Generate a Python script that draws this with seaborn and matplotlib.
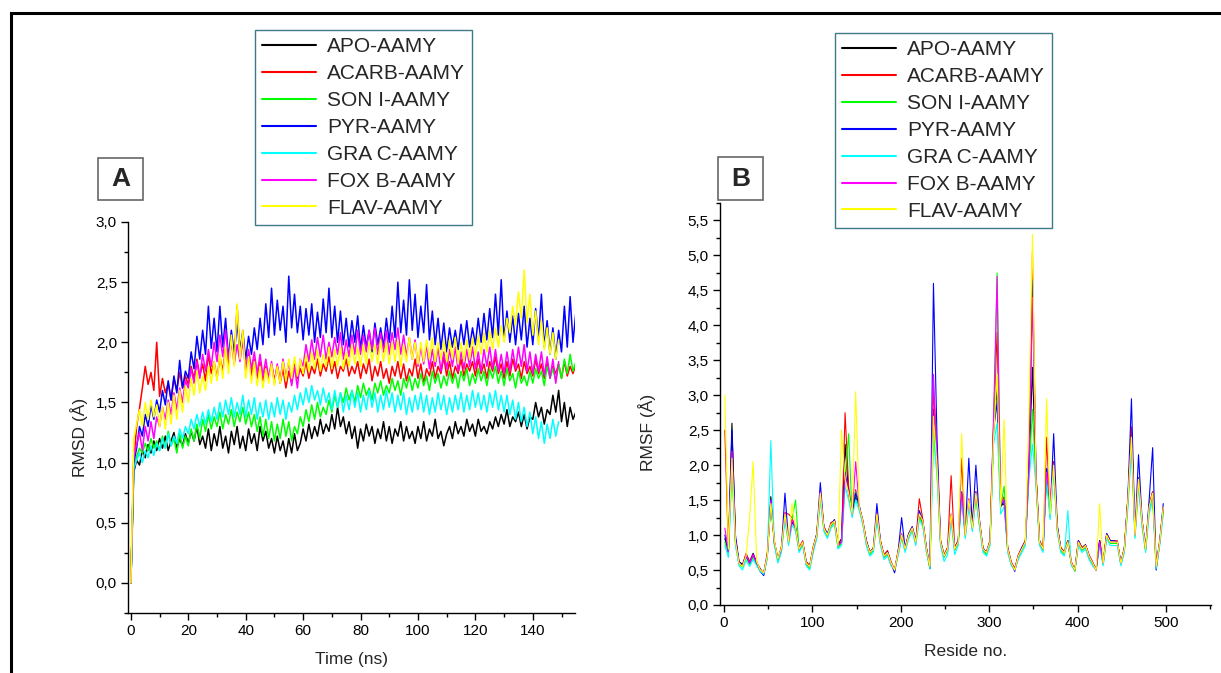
import numpy as np
import pandas as pd
import matplotlib
matplotlib.use("Agg")
import matplotlib.pyplot as plt
import seaborn as sns
from matplotlib.lines import Line2D
from matplotlib.patches import Rectangle
from matplotlib.ticker import MultipleLocator, FuncFormatter

labels = ["APO-AAMY", "ACARB-AAMY", "SON I-AAMY", "PYR-AAMY",
          "GRA C-AAMY", "FOX B-AAMY", "FLAV-AAMY"]
colors = ["#000000", "#ff0000", "#00ff00", "#0000ff", "#00ffff", "#ff00ff", "#ffff00"]

# ---- panel A: RMSD (1 ns steps) ----
time_ns = np.arange(0, 156)

rmsd_apo = [
    0.0, 0.92, 1.02, 0.98, 1.1, 1.04, 1.15, 1.08, 1.18, 1.1,
    1.2, 1.12, 1.22, 1.1, 1.18, 1.25, 1.12, 1.2, 1.14, 1.24,
    1.16, 1.26, 1.18, 1.3, 1.15, 1.22, 1.12, 1.28, 1.1, 1.24,
    1.14, 1.3, 1.12, 1.22, 1.08, 1.26, 1.15, 1.3, 1.12, 1.22,
    1.1, 1.28, 1.16, 1.24, 1.1, 1.3, 1.18, 1.26, 1.12, 1.2,
    1.08, 1.22, 1.1, 1.18, 1.05, 1.2, 1.08, 1.24, 1.1, 1.16,
    1.28, 1.18, 1.32, 1.2, 1.3, 1.22, 1.36, 1.24, 1.32, 1.26,
    1.4, 1.28, 1.46, 1.3, 1.38, 1.24, 1.34, 1.2, 1.3, 1.12,
    1.28, 1.18, 1.32, 1.22, 1.3, 1.16, 1.28, 1.2, 1.34, 1.18,
    1.3, 1.16, 1.28, 1.22, 1.34, 1.18, 1.3, 1.2, 1.26, 1.16,
    1.3, 1.2, 1.34, 1.18, 1.28, 1.22, 1.36, 1.2, 1.26, 1.14,
    1.24, 1.3, 1.2, 1.34, 1.24, 1.3, 1.22, 1.36, 1.26, 1.32,
    1.22, 1.36, 1.26, 1.3, 1.24, 1.34, 1.28, 1.38, 1.3, 1.4,
    1.32, 1.44, 1.3, 1.38, 1.34, 1.42, 1.3, 1.4, 1.28, 1.38,
    1.36, 1.5, 1.38, 1.46, 1.32, 1.44, 1.4, 1.56, 1.42, 1.6,
    1.34, 1.5, 1.3, 1.46, 1.36, 1.42]
rmsd_acarb = [
    0.0, 1.0, 1.3, 1.45, 1.62, 1.8, 1.65, 1.75, 1.6, 2.0,
    1.55, 1.7, 1.58, 1.66, 1.52, 1.7, 1.6, 1.75, 1.62, 1.72,
    1.65, 1.8, 1.7, 1.86, 1.72, 1.82, 1.68, 1.9, 1.74, 1.84,
    1.7, 1.88, 1.76, 1.95, 1.8, 2.05, 1.85, 2.3, 1.9, 2.1,
    1.78, 1.9, 1.72, 1.86, 1.7, 1.84, 1.68, 1.8, 1.7, 1.82,
    1.68, 1.8, 1.66, 1.78, 1.62, 1.76, 1.66, 1.82, 1.7, 1.78,
    1.72, 1.84, 1.7, 1.8, 1.74, 1.86, 1.72, 1.82, 1.76, 1.88,
    1.74, 1.84, 1.7, 1.8, 1.76, 1.86, 1.72, 1.8, 1.74, 1.84,
    1.7, 1.82, 1.74, 1.86, 1.68, 1.8, 1.72, 1.84, 1.7, 1.78,
    1.66, 1.8, 1.72, 1.84, 1.7, 1.82, 1.68, 1.78, 1.72, 1.86,
    1.7, 1.82, 1.66, 1.78, 1.72, 1.84, 1.7, 1.8, 1.74, 1.88,
    1.72, 1.84, 1.7, 1.8, 1.74, 1.86, 1.72, 1.82, 1.76, 1.84,
    1.72, 1.86, 1.74, 1.82, 1.7, 1.84, 1.76, 1.88, 1.74, 1.82,
    1.7, 1.84, 1.72, 1.86, 1.76, 1.82, 1.7, 1.84, 1.74, 1.8,
    1.72, 1.86, 1.74, 1.82, 1.7, 1.84, 1.72, 1.8, 1.74, 1.82,
    1.7, 1.84, 1.72, 1.8, 1.74, 1.82]
rmsd_son = [
    0.0, 0.95, 1.05, 1.12, 1.08, 1.16, 1.1, 1.2, 1.12, 1.18,
    1.1, 1.22, 1.12, 1.26, 1.14, 1.2, 1.08, 1.24, 1.12, 1.22,
    1.14, 1.28, 1.18, 1.32, 1.2, 1.36, 1.26, 1.4, 1.28, 1.38,
    1.3, 1.42, 1.28, 1.4, 1.32, 1.44, 1.3, 1.42, 1.34, 1.46,
    1.32, 1.42, 1.3, 1.4, 1.26, 1.38, 1.22, 1.36, 1.2, 1.34,
    1.18, 1.32, 1.2, 1.36, 1.22, 1.34, 1.18, 1.3, 1.24, 1.38,
    1.3, 1.44, 1.34, 1.48, 1.36, 1.5, 1.38, 1.46, 1.4, 1.52,
    1.42, 1.56, 1.46, 1.58, 1.5, 1.62, 1.52, 1.6, 1.5, 1.64,
    1.54, 1.66, 1.56, 1.62, 1.52, 1.66, 1.58, 1.68, 1.56, 1.64,
    1.58, 1.7, 1.6, 1.68, 1.56, 1.7, 1.62, 1.72, 1.6, 1.7,
    1.62, 1.74, 1.64, 1.72, 1.6, 1.76, 1.66, 1.74, 1.62, 1.72,
    1.64, 1.76, 1.66, 1.74, 1.62, 1.76, 1.68, 1.78, 1.64, 1.74,
    1.66, 1.78, 1.68, 1.76, 1.64, 1.78, 1.7, 1.8, 1.66, 1.76,
    1.64, 1.78, 1.68, 1.74, 1.62, 1.76, 1.66, 1.72, 1.64, 1.76,
    1.66, 1.78, 1.7, 1.76, 1.64, 1.8, 1.7, 1.78, 1.68, 1.82,
    1.7, 1.86, 1.74, 1.9, 1.76, 1.84]
rmsd_pyr = [
    0.0, 1.0, 1.12, 1.3, 1.22, 1.4, 1.3, 1.48, 1.36, 1.52,
    1.42, 1.6, 1.48, 1.68, 1.52, 1.72, 1.58, 1.85, 1.62, 1.76,
    1.7, 1.92, 1.78, 2.05, 1.86, 2.1, 1.9, 2.3, 1.95, 2.2,
    1.92, 2.3, 1.96, 2.2, 1.86, 2.1, 1.9, 2.15, 1.94, 2.08,
    1.86, 2.05, 1.9, 2.12, 1.94, 2.2, 1.98, 2.32, 2.04, 2.45,
    2.06, 2.35, 2.1, 2.3, 2.0, 2.55, 2.12, 2.4, 2.08, 2.3,
    2.02, 2.28, 2.06, 2.32, 2.0, 2.25, 2.04, 2.36, 2.08, 2.45,
    2.04, 2.3, 2.0, 2.26, 1.98, 2.2, 1.96, 2.18, 2.0, 2.22,
    1.94, 2.14, 1.96, 2.1, 1.92, 2.16, 1.98, 2.12, 1.96, 2.2,
    2.0, 2.3, 2.04, 2.5, 2.08, 2.35, 2.06, 2.52, 2.1, 2.4,
    2.04, 2.3, 2.08, 2.48, 2.02, 2.26, 1.98, 2.2, 1.94, 2.16,
    1.92, 2.12, 1.96, 2.1, 1.94, 2.15, 1.98, 2.18, 1.96, 2.12,
    1.98, 2.2, 2.0, 2.24, 2.02, 2.28, 2.04, 2.4, 2.06, 2.52,
    2.02, 2.26, 2.0, 2.22, 1.98, 2.24, 2.02, 2.3, 1.96, 2.2,
    1.98, 2.28, 2.02, 2.4, 1.96, 2.18, 1.9, 2.12, 1.86, 2.1,
    1.92, 2.3, 1.96, 2.38, 2.0, 2.25]
rmsd_grac = [
    0.0, 0.95, 1.02, 1.08, 1.0, 1.1, 1.04, 1.14, 1.06, 1.16,
    1.1, 1.2, 1.12, 1.24, 1.14, 1.22, 1.16, 1.28, 1.2, 1.3,
    1.24, 1.36, 1.28, 1.4, 1.3, 1.42, 1.32, 1.44, 1.34, 1.46,
    1.36, 1.5, 1.38, 1.52, 1.4, 1.54, 1.38, 1.5, 1.4, 1.56,
    1.38, 1.52, 1.4, 1.54, 1.36, 1.5, 1.38, 1.52, 1.36, 1.5,
    1.38, 1.54, 1.4, 1.52, 1.36, 1.5, 1.42, 1.56, 1.44, 1.58,
    1.48, 1.62, 1.5, 1.64, 1.52, 1.6, 1.48, 1.62, 1.5, 1.58,
    1.44, 1.6, 1.46, 1.58, 1.42, 1.56, 1.44, 1.6, 1.46, 1.58,
    1.42, 1.56, 1.44, 1.6, 1.46, 1.58, 1.42, 1.56, 1.44, 1.6,
    1.46, 1.58, 1.42, 1.56, 1.44, 1.58, 1.4, 1.54, 1.42, 1.56,
    1.44, 1.58, 1.42, 1.56, 1.4, 1.54, 1.42, 1.58, 1.44, 1.56,
    1.4, 1.54, 1.42, 1.56, 1.44, 1.58, 1.42, 1.56, 1.44, 1.6,
    1.46, 1.58, 1.44, 1.56, 1.42, 1.58, 1.46, 1.6, 1.44, 1.56,
    1.42, 1.56, 1.4, 1.52, 1.36, 1.5, 1.34, 1.46, 1.3, 1.42,
    1.24, 1.38, 1.2, 1.34, 1.16, 1.32, 1.2, 1.36, 1.22, 1.34]
rmsd_foxb = [
    0.0, 1.05, 1.15, 1.25, 1.1, 1.3, 1.18, 1.34, 1.2, 1.38,
    1.3, 1.46, 1.36, 1.52, 1.4, 1.58, 1.44, 1.62, 1.5, 1.68,
    1.62, 1.78, 1.66, 1.84, 1.7, 1.9, 1.76, 1.94, 1.8, 2.0,
    1.84, 2.06, 1.88, 2.1, 1.86, 2.0, 1.82, 1.98, 1.84, 2.02,
    1.76, 1.94, 1.78, 1.92, 1.74, 1.9, 1.72, 1.86, 1.7, 1.84,
    1.66, 1.82, 1.68, 1.86, 1.7, 1.84, 1.64, 1.8, 1.62, 1.86,
    1.8, 1.98, 1.84, 2.02, 1.86, 2.04, 1.88, 2.06, 1.86, 2.0,
    1.88, 2.04, 1.9, 2.08, 1.86, 2.02, 1.88, 2.06, 1.9, 2.1,
    1.9, 2.06, 1.92, 2.1, 1.94, 2.12, 1.9, 2.08, 1.92, 2.1,
    1.9, 2.08, 1.94, 2.12, 1.9, 2.06, 1.88, 2.04, 1.86, 2.02,
    1.8, 1.96, 1.82, 1.98, 1.78, 1.94, 1.8, 1.96, 1.76, 1.92,
    1.78, 1.94, 1.8, 1.96, 1.76, 1.92, 1.78, 1.94, 1.8, 1.96,
    1.78, 1.92, 1.76, 1.94, 1.8, 1.96, 1.78, 1.94, 1.76, 1.9,
    1.74, 1.92, 1.76, 1.94, 1.78, 1.96, 1.8, 1.98, 1.76, 1.92,
    1.74, 1.9, 1.76, 1.92, 1.72, 1.88, 1.7, 1.86, 1.66, 1.84]
rmsd_flav = [
    0.0, 1.2, 1.32, 1.44, 1.3, 1.5, 1.36, 1.52, 1.38, 1.48,
    1.3, 1.46, 1.28, 1.5, 1.32, 1.56, 1.36, 1.6, 1.42, 1.64,
    1.5, 1.7, 1.56, 1.76, 1.58, 1.72, 1.6, 1.8, 1.66, 1.84,
    1.68, 1.9, 1.7, 1.96, 1.74, 2.06, 1.8, 2.32, 1.86, 2.1,
    1.7, 1.88, 1.66, 1.84, 1.64, 1.8, 1.62, 1.78, 1.66, 1.82,
    1.64, 1.8, 1.66, 1.84, 1.68, 1.86, 1.7, 1.88, 1.72, 1.86,
    1.74, 1.9, 1.76, 1.92, 1.78, 1.94, 1.76, 1.9, 1.8, 1.96,
    1.78, 1.94, 1.8, 1.96, 1.78, 1.92, 1.8, 1.98, 1.82, 1.96,
    1.8, 1.98, 1.82, 2.0, 1.84, 1.98, 1.82, 2.02, 1.84, 2.0,
    1.82, 2.0, 1.84, 2.02, 1.8, 1.98, 1.84, 2.04, 1.86, 2.0,
    1.82, 2.0, 1.84, 2.02, 1.86, 2.04, 1.84, 2.0, 1.86, 2.02,
    1.84, 2.02, 1.86, 2.04, 1.82, 2.0, 1.84, 2.02, 1.86, 2.04,
    1.88, 2.06, 1.9, 2.08, 1.92, 2.1, 1.94, 2.12, 1.96, 2.14,
    2.0, 2.2, 2.08, 2.3, 2.14, 2.42, 2.2, 2.6, 2.16, 2.4,
    2.06, 2.26, 1.98, 2.18, 1.94, 2.12, 1.9, 2.08, 1.86, 2.02]

# ---- panel B: RMSF (every 4th residue) ----
residue = np.arange(1, 498, 4)

rmsf_apo = [
    0.95, 0.78, 2.6, 0.95, 0.62, 0.58, 0.72, 0.62, 0.74, 0.6,
    0.52, 0.44, 0.7, 1.55, 0.88, 0.66, 0.82, 1.28, 0.92, 1.18,
    1.12, 0.78, 0.9, 0.62, 0.56, 0.82, 1.02, 1.58, 1.12, 1.02,
    1.14, 1.22, 0.86, 0.95, 2.3, 1.62, 1.32, 1.55, 1.42, 1.18,
    0.92, 0.74, 0.82, 1.28, 0.92, 0.7, 0.76, 0.6, 0.48, 0.76,
    0.98, 0.82, 1.02, 1.08, 0.92, 1.28, 1.18, 0.82, 0.56, 2.8,
    2.1, 0.92, 0.7, 0.82, 1.28, 0.82, 0.92, 1.58, 1.02, 1.48,
    1.12, 1.62, 1.18, 0.82, 0.74, 0.92, 2.5, 3.1, 1.42, 1.45,
    0.82, 0.6, 0.52, 0.7, 0.82, 0.92, 1.95, 3.4, 1.85, 0.92,
    0.8, 1.95, 1.32, 2.05, 1.12, 0.82, 0.76, 0.92, 0.6, 0.5,
    0.92, 0.82, 0.86, 0.7, 0.6, 0.52, 0.92, 0.6, 1.02, 0.92,
    0.92, 0.9, 0.6, 0.82, 1.52, 2.5, 1.02, 1.82, 1.2, 0.8,
    1.42, 1.62, 0.56, 0.92, 1.4]
rmsf_acarb = [
    2.5, 0.8, 2.3, 0.92, 0.6, 0.56, 0.74, 0.62, 0.72, 0.62,
    0.5, 0.46, 0.74, 1.45, 0.92, 0.64, 0.84, 1.32, 1.3, 1.25,
    1.1, 0.82, 0.92, 0.62, 0.56, 0.84, 1.0, 1.62, 1.12, 1.0,
    1.18, 1.2, 0.88, 0.9, 2.75, 1.7, 1.32, 1.65, 1.4, 1.22,
    0.92, 0.76, 0.8, 1.32, 0.92, 0.72, 0.78, 0.62, 0.5, 0.78,
    1.02, 0.82, 1.02, 1.12, 0.92, 1.52, 1.22, 0.8, 0.54, 3.1,
    2.2, 0.92, 0.72, 0.82, 1.85, 0.82, 0.92, 2.1, 1.02, 1.52,
    1.12, 1.62, 1.22, 0.8, 0.76, 0.92, 2.6, 3.9, 1.45, 1.55,
    0.82, 0.62, 0.52, 0.72, 0.82, 0.92, 2.0, 5.05, 1.9, 0.92,
    0.82, 2.4, 1.32, 2.05, 1.12, 0.82, 0.76, 0.92, 0.62, 0.5,
    0.92, 0.82, 0.86, 0.72, 0.62, 0.5, 0.92, 0.62, 1.02, 0.92,
    0.92, 0.92, 0.6, 0.82, 1.52, 2.55, 1.02, 1.8, 1.2, 0.82,
    1.42, 1.62, 0.58, 0.9, 1.38]
rmsf_son = [
    0.9, 0.72, 2.0, 0.88, 0.58, 0.54, 0.68, 0.58, 0.68, 0.58,
    0.5, 0.46, 0.68, 1.45, 0.88, 0.62, 0.78, 1.28, 0.88, 1.22,
    1.5, 0.78, 0.88, 0.58, 0.52, 0.78, 0.98, 1.55, 1.08, 0.98,
    1.12, 1.18, 0.82, 0.88, 1.8, 2.45, 1.28, 1.62, 1.38, 1.18,
    0.88, 0.72, 0.78, 1.25, 0.88, 0.68, 0.72, 0.58, 0.5, 0.72,
    0.98, 0.78, 0.98, 1.08, 0.88, 1.25, 1.15, 0.78, 0.52, 2.5,
    1.9, 0.88, 0.68, 0.78, 1.25, 0.78, 0.88, 1.55, 0.98, 1.45,
    1.08, 1.55, 1.15, 0.78, 0.72, 0.88, 2.4, 4.75, 1.4, 1.7,
    0.78, 0.58, 0.5, 0.68, 0.78, 0.88, 1.85, 2.8, 1.75, 0.88,
    0.78, 1.85, 1.25, 1.95, 1.08, 0.78, 0.72, 0.9, 0.58, 0.48,
    0.88, 0.78, 0.82, 0.68, 0.58, 0.5, 0.88, 0.58, 0.98, 0.88,
    0.88, 0.88, 0.58, 0.78, 1.45, 2.3, 0.98, 1.75, 1.15, 0.78,
    1.35, 1.55, 0.52, 0.88, 1.35]
rmsf_pyr = [
    1.0, 0.76, 2.5, 1.0, 0.62, 0.56, 0.7, 0.6, 0.72, 0.6,
    0.48, 0.42, 0.7, 1.5, 0.9, 0.66, 0.8, 1.6, 0.92, 1.2,
    1.1, 0.8, 0.9, 0.6, 0.55, 0.8, 1.02, 1.75, 1.1, 1.02,
    1.15, 1.22, 0.85, 0.9, 1.9, 1.6, 1.3, 1.6, 1.42, 1.2,
    0.92, 0.76, 0.8, 1.45, 0.9, 0.7, 0.76, 0.6, 0.46, 0.76,
    1.25, 0.8, 1.02, 1.12, 0.92, 1.35, 1.2, 0.82, 0.52, 4.6,
    2.4, 0.9, 0.7, 0.8, 1.3, 0.8, 0.92, 1.62, 1.02, 2.1,
    1.12, 2.0, 1.22, 0.8, 0.76, 0.9, 2.5, 2.9, 1.4, 1.5,
    0.8, 0.6, 0.48, 0.7, 0.82, 0.9, 1.95, 4.65, 1.85, 0.9,
    0.8, 1.95, 1.3, 2.45, 1.15, 0.8, 0.76, 0.9, 0.6, 0.5,
    0.92, 0.8, 0.86, 0.7, 0.6, 0.5, 0.92, 0.6, 1.02, 0.92,
    0.92, 0.9, 0.6, 0.8, 1.55, 2.95, 1.0, 2.15, 1.22, 0.8,
    1.5, 2.25, 0.5, 0.9, 1.45]
rmsf_grac = [
    0.85, 0.68, 1.9, 0.85, 0.56, 0.5, 0.64, 0.55, 0.65, 0.56,
    0.48, 0.44, 0.66, 2.35, 0.85, 0.6, 0.75, 1.22, 0.85, 1.15,
    1.05, 0.75, 0.85, 0.56, 0.5, 0.75, 0.95, 1.5, 1.05, 0.95,
    1.1, 1.15, 0.8, 0.85, 1.7, 1.5, 1.25, 1.5, 1.35, 1.15,
    0.85, 0.7, 0.75, 1.22, 0.85, 0.65, 0.7, 0.56, 0.5, 0.7,
    0.95, 0.75, 0.95, 1.05, 0.85, 1.22, 1.12, 0.75, 0.52, 2.4,
    1.85, 0.85, 0.62, 0.72, 1.2, 0.72, 0.85, 1.5, 0.95, 1.4,
    1.05, 1.5, 1.12, 0.75, 0.7, 0.85, 2.3, 2.6, 1.3, 1.4,
    0.75, 0.56, 0.5, 0.65, 0.75, 0.85, 1.8, 2.3, 1.7, 0.85,
    0.75, 1.8, 1.22, 1.9, 1.05, 0.75, 0.7, 1.35, 0.56, 0.5,
    0.85, 0.75, 0.8, 0.65, 0.56, 0.5, 0.85, 0.56, 0.95, 0.85,
    0.85, 0.85, 0.56, 0.75, 1.4, 2.25, 0.95, 1.7, 1.12, 0.75,
    1.3, 1.5, 0.52, 0.85, 1.3]
rmsf_foxb = [
    1.1, 0.76, 2.2, 0.92, 0.6, 0.56, 0.72, 0.6, 0.72, 0.6,
    0.5, 0.46, 0.72, 1.5, 0.9, 0.66, 0.8, 1.32, 0.9, 1.22,
    1.1, 0.8, 0.9, 0.6, 0.55, 0.8, 1.0, 1.62, 1.1, 1.0,
    1.15, 1.2, 0.85, 0.9, 1.85, 1.6, 1.3, 2.05, 1.4, 1.2,
    0.9, 0.75, 0.8, 1.3, 0.9, 0.7, 0.75, 0.6, 0.5, 0.75,
    1.0, 0.8, 1.0, 1.1, 0.9, 1.3, 1.2, 0.8, 0.55, 3.3,
    2.1, 0.9, 0.7, 0.8, 1.3, 0.8, 0.9, 1.6, 1.0, 1.5,
    1.1, 1.6, 1.2, 0.8, 0.75, 0.9, 2.7, 4.7, 1.45, 1.5,
    0.8, 0.6, 0.5, 0.7, 0.8, 0.9, 1.9, 4.4, 1.8, 0.9,
    0.8, 1.9, 1.5, 2.0, 1.1, 0.8, 0.75, 0.9, 0.6, 0.5,
    0.9, 0.8, 0.85, 0.7, 0.6, 0.5, 0.9, 0.6, 1.0, 0.9,
    0.9, 0.9, 0.6, 0.8, 1.5, 2.4, 1.0, 1.8, 1.2, 0.8,
    1.4, 1.6, 0.55, 0.9, 1.4]
rmsf_flav = [
    3.0, 0.8, 2.1, 0.9, 0.6, 0.55, 0.7, 1.25, 2.05, 0.62,
    0.5, 0.46, 0.7, 1.45, 0.92, 0.66, 0.82, 1.3, 0.9, 1.45,
    1.1, 0.8, 0.9, 0.6, 0.55, 0.82, 1.0, 1.6, 1.1, 1.0,
    1.15, 1.2, 0.85, 2.5, 1.8, 1.6, 1.3, 3.05, 1.4, 1.2,
    0.9, 0.75, 0.8, 1.3, 0.9, 0.7, 0.75, 0.6, 0.5, 0.75,
    1.0, 0.8, 1.0, 1.1, 0.9, 1.3, 1.2, 0.8, 0.55, 2.7,
    2.0, 0.9, 0.7, 0.8, 1.3, 0.8, 0.9, 2.45, 1.0, 1.5,
    1.1, 1.6, 1.2, 0.8, 0.75, 0.9, 2.4, 3.3, 1.4, 2.65,
    0.8, 0.6, 0.5, 0.7, 0.8, 0.9, 2.75, 5.3, 1.8, 0.9,
    0.8, 2.95, 1.3, 2.0, 1.1, 0.8, 0.75, 0.9, 0.6, 0.5,
    0.9, 0.8, 0.85, 0.7, 0.6, 0.5, 1.45, 0.6, 1.0, 0.9,
    0.9, 0.9, 0.6, 0.8, 1.5, 2.4, 1.0, 1.8, 1.2, 0.8,
    1.4, 1.6, 0.55, 0.9, 1.4]

rmsd_all = [rmsd_apo, rmsd_acarb, rmsd_son, rmsd_pyr, rmsd_grac, rmsd_foxb, rmsd_flav]
rmsf_all = [rmsf_apo, rmsf_acarb, rmsf_son, rmsf_pyr, rmsf_grac, rmsf_foxb, rmsf_flav]

frames = []
for name, vals in zip(labels, rmsd_all):
    frames.append(pd.DataFrame({"time": time_ns[:len(vals)], "rmsd": vals, "sys": name}))
df_rmsd = pd.concat(frames, ignore_index=True)

frames = []
for name, vals in zip(labels, rmsf_all):
    frames.append(pd.DataFrame({"res": residue, "rmsf": vals, "sys": name}))
df_rmsf = pd.concat(frames, ignore_index=True)

sns.set_style("ticks")
plt.rcParams["font.family"] = ["Liberation Sans", "DejaVu Sans"]

W, H = 1221, 673
fig = plt.figure(figsize=(W / 100, H / 100), dpi=100)


def box(x0, y0, x1, y1):
    # pixel box (top-left origin) -> figure fraction rect
    return [x0 / W, 1 - y1 / H, (x1 - x0) / W, (y1 - y0) / H]


comma = FuncFormatter(lambda v, p: f"{v:.1f}".replace(".", ","))
pal = dict(zip(labels, colors))

# panel A
axA = fig.add_axes(box(128, 222, 575, 613))
sns.lineplot(data=df_rmsd, x="time", y="rmsd", hue="sys", hue_order=labels,
             palette=pal, estimator=None, sort=False, lw=1.1, legend=False, ax=axA)
axA.set_xlim(-1, 154.7)
axA.set_ylim(-0.25, 3.0)
axA.xaxis.set_major_locator(MultipleLocator(20))
axA.xaxis.set_minor_locator(MultipleLocator(10))
axA.yaxis.set_major_locator(MultipleLocator(0.5))
axA.yaxis.set_minor_locator(MultipleLocator(0.25))
axA.yaxis.set_major_formatter(comma)
axA.set_xlabel("Time (ns)", fontsize=12.5, labelpad=10)
axA.set_ylabel("RMSD (Å)", fontsize=12.5)
axA.yaxis.set_label_coords(-0.09, 0.45)

# panel B
axB = fig.add_axes(box(720, 203, 1211, 605))
sns.lineplot(data=df_rmsf, x="res", y="rmsf", hue="sys", hue_order=labels,
             palette=pal, estimator=None, sort=False, lw=0.8, legend=False, ax=axB)
axB.set_xlim(-4.5, 551)
axB.set_ylim(0, 5.75)
axB.xaxis.set_major_locator(MultipleLocator(100))
axB.xaxis.set_minor_locator(MultipleLocator(50))
axB.yaxis.set_major_locator(MultipleLocator(0.5))
axB.yaxis.set_minor_locator(MultipleLocator(0.25))
axB.yaxis.set_major_formatter(comma)
axB.set_xlabel("Reside no.", fontsize=12.5, labelpad=10)
axB.set_ylabel("RMSF (Å)", fontsize=12.5)
axB.yaxis.set_label_coords(-0.131, 0.43)

for ax in (axA, axB):
    sns.despine(ax=ax)
    for s in ("left", "bottom"):
        ax.spines[s].set_color("black")
        ax.spines[s].set_linewidth(1.0)
    ax.tick_params(which="major", direction="out", length=5, width=1,
                   colors="black", labelsize=11, pad=3)
    ax.tick_params(which="minor", direction="out", length=3, width=1, colors="black")
    ax.grid(False)

handles = [Line2D([0], [0], color=c, lw=1.5) for c in colors]
for (x0, y0) in [(255, 30), (835, 33)]:
    fig.legend(handles, labels, loc="upper left", bbox_to_anchor=(x0 / W, 1 - y0 / H),
               bbox_transform=fig.transFigure, frameon=True, fancybox=False,
               edgecolor="#3c7a89", framealpha=1, fontsize=15, handlelength=2.6,
               handletextpad=0.5, labelspacing=0.38, borderpad=0.35, borderaxespad=0)

# panel letters in boxes
for letter, (x0, y0, x1, y1) in [("A", (98, 158, 143, 200)), ("B", (718, 157, 763, 200))]:
    r = box(x0, y0, x1, y1)
    fig.patches.append(Rectangle((r[0], r[1]), r[2], r[3], transform=fig.transFigure,
                                 facecolor="white", edgecolor="#666666", lw=1.2))
    fig.text(r[0] + r[2] / 2, r[1] + r[3] / 2, letter, ha="center", va="center",
             fontsize=19, fontweight="bold", family=["Liberation Sans", "DejaVu Sans"])

# outer frame
fig.patches.append(Rectangle((11 / W, -0.02), 1.05, 1 - 13 / H + 0.02,
                             transform=fig.transFigure, fill=False,
                             edgecolor="black", lw=2.2))

fig.savefig("out.png", dpi=100)
